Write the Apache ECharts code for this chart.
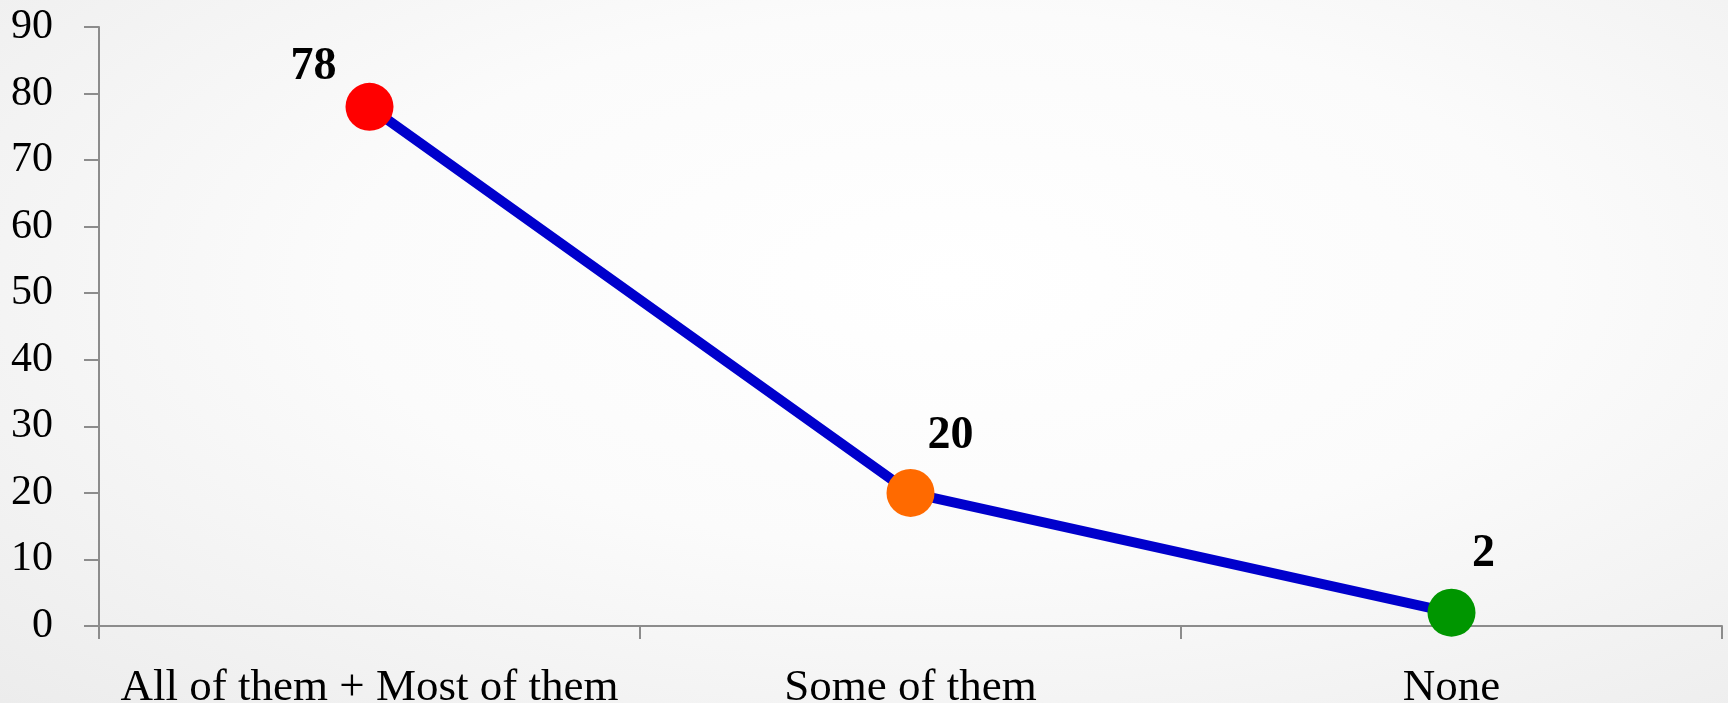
<!DOCTYPE html>
<html>
<head>
<meta charset="utf-8">
<script src="https://cdn.jsdelivr.net/npm/echarts@6/dist/echarts.min.js"></script>
<style>
  html, body { margin: 0; padding: 0; }
  body {
    width: 1728px;
    height: 703px;
    background: radial-gradient(ellipse at 55% 40%, #ffffff 0%, #fbfbfb 45%, #ececec 100%);
  }
  #chart { width: 1728px; height: 703px; }
</style>
</head>
<body>
<div id="chart"></div>
<script>
const categories = ['All of them + Most of them', 'Some of them', 'None']
const values = [78, 20, 2]
const pointColors = ['#ff0000', '#ff6a00', '#009600']
const labelOffsets = [[-56, -40], [40, -57], [32, -59]]

const chart = echarts.init(document.getElementById('chart'))
const font = 'Liberation Serif'

chart.setOption({
  animation: false,
  backgroundColor: 'transparent',
  textStyle: { fontFamily: font },
  grid: { left: 99, right: 6, top: 27, bottom: 77, containLabel: false, outerBoundsMode: 'none' },
  xAxis: {
    type: 'category',
    data: categories,
    axisLine: { lineStyle: { color: '#8c8c8c', width: 2 } },
    axisTick: { show: true, interval: 0, length: 13, lineStyle: { color: '#8c8c8c', width: 2 } },
    axisLabel: { interval: 0, color: '#000', fontSize: 45, fontFamily: font, margin: 40 },
  },
  yAxis: {
    type: 'value',
    min: 0,
    max: 90,
    interval: 10,
    splitLine: { show: false },
    axisLine: { show: true, lineStyle: { color: '#8c8c8c', width: 2 } },
    axisTick: { show: true, length: 15, lineStyle: { color: '#8c8c8c', width: 2 } },
    axisLabel: { color: '#000', fontSize: 42, fontFamily: font, margin: 46 },
  },
  series: [
    {
      type: 'line',
      symbol: 'circle',
      symbolSize: 48,
      lineStyle: { color: '#0000cc', width: 10 },
      data: values.map((v, i) => ({
        value: v,
        itemStyle: { color: pointColors[i] },
        label: {
          show: true,
          position: 'inside',
          offset: labelOffsets[i],
          color: '#000',
          fontWeight: 'bold',
          fontSize: 46,
          fontFamily: font,
        },
      })),
    },
  ],
})
</script>
</body>
</html>
